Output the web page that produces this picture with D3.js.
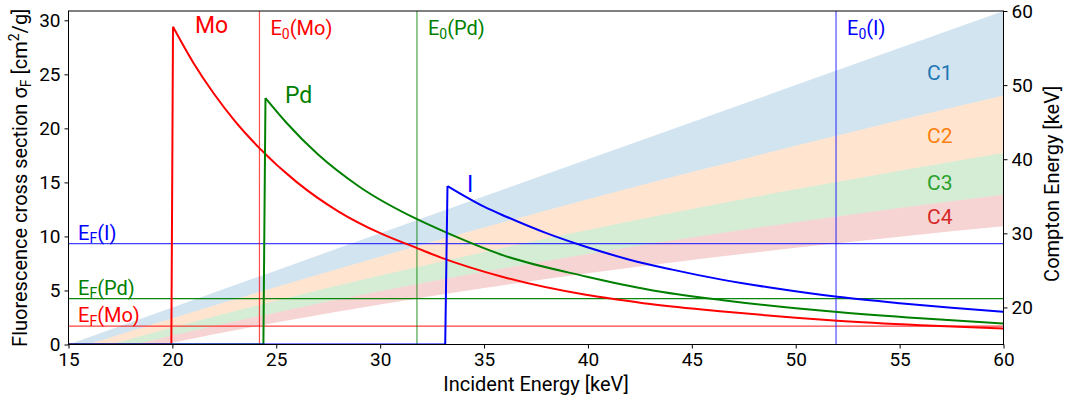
<!DOCTYPE html>
<html>
<head>
<meta charset="utf-8">
<script src="https://cdn.jsdelivr.net/npm/d3@7"></script>
<style>
  html, body { margin: 0; padding: 0; background: #fff; }
  svg { display: block; font-family: Roboto, "DejaVu Sans", sans-serif; }
</style>
</head>
<body>
<svg id="chart" width="1072" height="405"></svg>
<script>
// ---- data ----
const moE = [15, 19.95, 20.03, 21, 22, 23, 24.2, 26, 28, 30, 31.8, 32.9, 36, 39.9, 41.4, 43, 46.5, 50, 52, 56, 60];
const moV = [0, 0, 29.4, 26.1, 23.2, 20.7, 18.15, 15.0, 12.3, 10.3, 8.9, 8.06, 6.2, 4.6, 4.17, 3.75, 3.05, 2.47, 2.19, 1.78, 1.48];

const pdE = [15, 24.38, 24.48, 25.5, 27, 29, 31.8, 32.9, 36, 39.9, 43, 46.5, 50, 52, 56, 60];
const pdV = [0, 0, 22.8, 20.5, 17.6, 14.6, 11.57, 10.6, 8.2, 6.3, 5.05, 4.1, 3.35, 3.0, 2.42, 1.94];

const iE = [15, 33.13, 33.24, 34, 35, 36.1, 38, 39.9, 42, 44, 46.5, 49, 52, 55, 57.5, 60];
const iV = [0, 0, 14.66, 13.8, 12.75, 11.8, 10.3, 9.04, 7.85, 6.95, 5.98, 5.2, 4.41, 3.82, 3.4, 3.02];

// Compton band edges (keV) vs incident energy
const bandE  = [15, 20, 25, 30, 35, 40, 45, 50, 55, 60];
const edge0 = [15, 20, 25, 30, 35, 40, 45, 50, 55, 60];
const edge1 = [14.17, 18.55, 22.77, 26.85, 30.78, 34.59, 38.26, 41.82, 45.26, 48.59];
const edge2 = [13.42, 17.29, 20.91, 24.30, 27.47, 30.46, 33.28, 35.94, 38.45, 40.83];
const edge3 = [12.75, 16.20, 19.33, 22.19, 24.81, 27.22, 29.44, 31.50, 33.42, 35.20];
const edge4 = [12.15, 15.23, 17.97, 20.41, 22.61, 24.60, 26.40, 28.05, 29.55, 30.94];
const bandNames = ["C1", "C2", "C3", "C4"];
const bandColors = ["#1f77b4", "#ff7f0e", "#2ca02c", "#d62728"];
const bandLabelY = [50.7, 42.2, 35.85, 31.3]; // label positions in Compton keV

const elements = ["Mo", "Pd", "I"];
const elemColors = ["#ff0000", "#008000", "#0000ff"];
const e0Values = [24.19, 31.77, 51.94];   // incident energy E0
const efValues = [17.48, 21.18, 28.61];   // fluorescence energy EF (Compton axis)

const xTicks = [15, 20, 25, 30, 35, 40, 45, 50, 55, 60];
const yTicks = [0, 5, 10, 15, 20, 25, 30];
const y2Ticks = [20, 30, 40, 50, 60];

// ---- layout ----
const L = 68.5, R = 1003.5, T = 11, B = 344.5;
const x = d3.scaleLinear().domain([15, 60]).range([L, R]);
const y = d3.scaleLinear().domain([0, 30.86]).range([B, T]);
const y2 = d3.scaleLinear().domain([15, 60]).range([B, T]);

const svg = d3.select("#chart");
svg.append("defs").append("clipPath").attr("id", "clip")
  .append("rect").attr("x", L).attr("y", T).attr("width", R - L).attr("height", B - T);

const plot = svg.append("g").attr("clip-path", "url(#clip)");

// bands
const edges = [edge0, edge1, edge2, edge3, edge4];
for (let b = 0; b < 4; b++) {
  const pts = bandE.map((e, i) => ({ e, hi: edges[b][i], lo: edges[b + 1][i] }));
  const area = d3.area().x(d => x(d.e)).y0(d => y2(d.lo)).y1(d => y2(d.hi)).curve(d3.curveMonotoneX);
  plot.append("path").attr("d", area(pts)).attr("fill", bandColors[b]).attr("fill-opacity", 0.2);
}

// EF horizontal lines
efValues.forEach((v, i) => {
  plot.append("line").attr("x1", L).attr("x2", R).attr("y1", y2(v)).attr("y2", y2(v))
    .attr("stroke", elemColors[i]).attr("stroke-width", 1.2).attr("stroke-opacity", i === 1 ? 0.95 : 0.75);
});
// E0 vertical lines
e0Values.forEach((v, i) => {
  plot.append("line").attr("x1", x(v)).attr("x2", x(v)).attr("y1", T).attr("y2", B)
    .attr("stroke", elemColors[i]).attr("stroke-width", 1.2).attr("stroke-opacity", 0.7);
});

// fluorescence curves
const series = [[moE, moV], [pdE, pdV], [iE, iV]];
series.forEach(([E, V], k) => {
  const pts = E.map((e, i) => [e, V[i]]);
  const peak = V.indexOf(d3.max(V));
  const edgePts = pts.slice(0, peak + 1);
  const decayPts = pts.slice(peak);
  plot.append("path").attr("d", d3.line().x(d => x(d[0])).y(d => y(d[1]))(edgePts))
    .attr("fill", "none").attr("stroke", elemColors[k]).attr("stroke-width", 2).attr("stroke-linejoin", "miter");
  plot.append("path").attr("d", d3.line().x(d => x(d[0])).y(d => y(d[1])).curve(d3.curveMonotoneX)(decayPts))
    .attr("fill", "none").attr("stroke", elemColors[k]).attr("stroke-width", 2);
});

// ---- text labels ----
function subLabel(g, px, py, main, sub, rest, color, size) {
  const t = g.append("text").attr("x", px).attr("y", py).attr("fill", color).attr("font-size", size);
  t.append("tspan").text(main);
  t.append("tspan").text(sub).attr("font-size", size * 0.7).attr("dy", size * 0.18);
  t.append("tspan").text(rest).attr("dy", -size * 0.18);
  return t;
}
const labels = svg.append("g");
// element labels
const elemLabelPos = [[195, 33], [285, 103], [467, 192]];
elements.forEach((n, i) => {
  labels.append("text").attr("x", elemLabelPos[i][0]).attr("y", elemLabelPos[i][1])
    .attr("fill", elemColors[i]).attr("font-size", 23).text(n);
});
// E0 labels
e0Values.forEach((v, i) => {
  subLabel(labels, x(v) + 11, 35, "E", "0", "(" + elements[i] + ")", elemColors[i], 20);
});
// EF labels
efValues.forEach((v, i) => {
  subLabel(labels, 78, y2(v) - 4, "E", "F", "(" + elements[i] + ")", elemColors[i], 20);
});
// band labels
bandNames.forEach((n, i) => {
  labels.append("text").attr("x", 927).attr("y", y2(bandLabelY[i]))
    .attr("fill", bandColors[i]).attr("font-size", 21).text(n);
});

// ---- axes ----
const axG = svg.append("g");
axG.append("rect").attr("x", L).attr("y", T).attr("width", R - L).attr("height", B - T)
  .attr("fill", "none").attr("stroke", "#000").attr("stroke-width", 1);

const xAxis = axG.append("g").attr("transform", `translate(0,${B})`)
  .call(d3.axisBottom(x).tickValues(xTicks).tickSize(4).tickPadding(4).tickFormat(d3.format("d")));
const yAxis = axG.append("g").attr("transform", `translate(${L},0)`)
  .call(d3.axisLeft(y).tickValues(yTicks).tickSize(4).tickPadding(4).tickFormat(d3.format("d")));
const y2Axis = axG.append("g").attr("transform", `translate(${R},0)`)
  .call(d3.axisRight(y2).tickValues(y2Ticks).tickSize(4).tickPadding(4).tickFormat(d3.format("d")));
[xAxis, yAxis, y2Axis].forEach(a => {
  a.select(".domain").remove();
  a.selectAll("text").attr("font-size", 19).attr("fill", "#000").attr("font-family", "Roboto, sans-serif");
  a.selectAll("line").attr("stroke", "#000");
});

// axis titles
svg.append("text").attr("x", 536).attr("y", 391).attr("text-anchor", "middle")
  .attr("font-size", 20).attr("fill", "#000").text("Incident Energy [keV]");

const yl = svg.append("text").attr("transform", `translate(27,${(T + B) / 2}) rotate(-90)`)
  .attr("text-anchor", "middle").attr("font-size", 20).attr("fill", "#000");
yl.append("tspan").text("Fluorescence cross section σ");
yl.append("tspan").text("F").attr("font-size", 14).attr("dy", 3.5);
yl.append("tspan").text(" [cm").attr("dy", -3.5);
yl.append("tspan").text("2").attr("font-size", 14).attr("dy", -8);
yl.append("tspan").text("/g]").attr("dy", 8);

svg.append("text").attr("transform", `translate(1059,${(T + B) / 2 + 6}) rotate(-90)`)
  .attr("text-anchor", "middle").attr("font-size", 20).attr("fill", "#000").text("Compton Energy [keV]");
</script>
</body>
</html>
